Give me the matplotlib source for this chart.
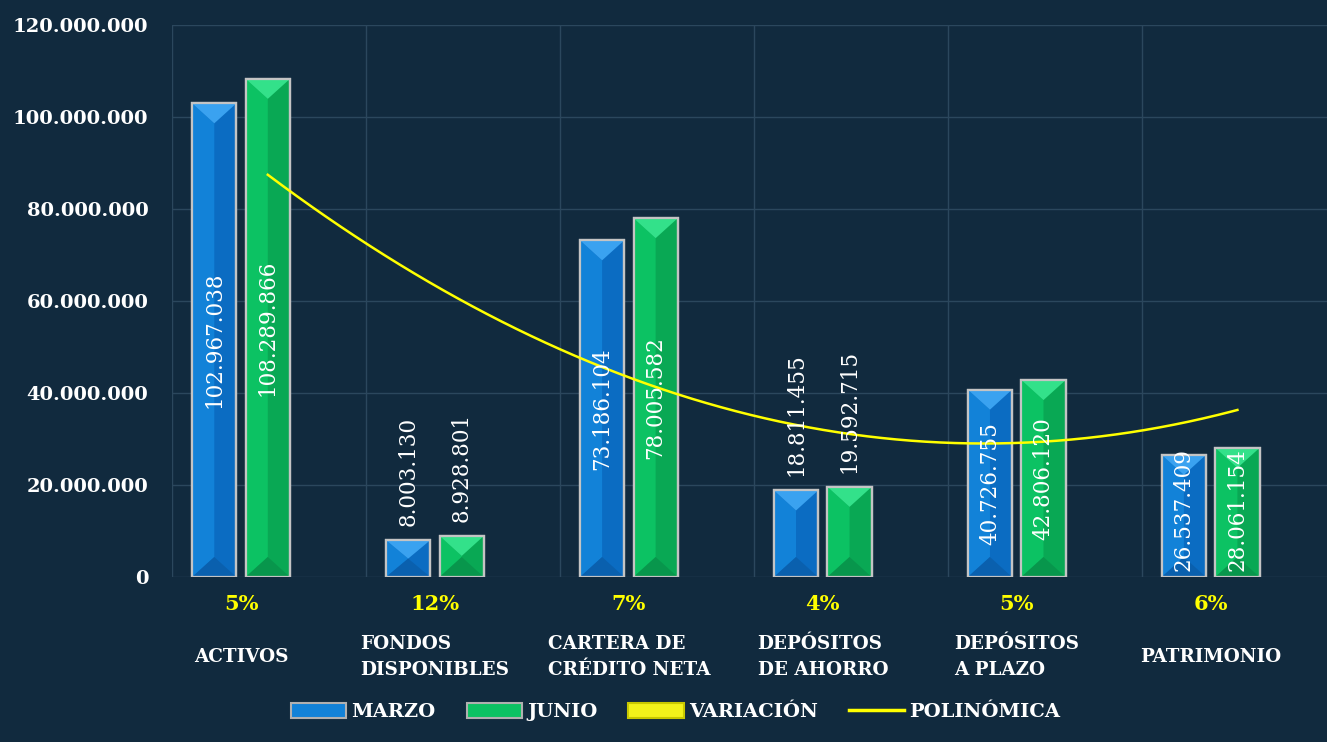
import numpy as np
import matplotlib
matplotlib.use("Agg")
import matplotlib.pyplot as plt
from matplotlib.patches import Polygon, Patch
from matplotlib.lines import Line2D
from matplotlib.ticker import FuncFormatter, MultipleLocator

# ---------------- data ----------------
categories = ["ACTIVOS", "FONDOS\nDISPONIBLES", "CARTERA DE\nCRÉDITO NETA",
              "DEPÓSITOS\nDE AHORRO", "DEPÓSITOS\nA PLAZO", "PATRIMONIO"]
marzo = [102967038, 8003130, 73186104, 18811455, 40726755, 26537409]
junio = [108289866, 8928801, 78005582, 19592715, 42806120, 28061154]
variacion = ["5%", "12%", "7%", "4%", "5%", "6%"]
series_names = ["MARZO", "JUNIO", "VARIACIÓN", "POLINÓMICA"]

# ---------------- style ----------------
BG = "#112a3e"
GRID = "#2b475d"
WHITE = "#ffffff"
YELLOW = "#ffff00"
SERIF = ["DejaVu Serif"]
blue = dict(main="#0b6cc2", light="#1282d8", top="#3aa2f0", bottom="#0a60ae")
green = dict(main="#09a854", light="#0cc263", top="#33e18a", bottom="#08964c")

fig = plt.figure(figsize=(13.27, 7.42), dpi=100, facecolor=BG)
ax = fig.add_axes([172 / 1327, 165 / 742, 1 - 172 / 1327, (577 - 25) / 742])
ax.set_facecolor(BG)

x = np.arange(len(categories))
w = 0.228
off = 0.138
ax.set_xlim(-0.356, 5.6)
ax.set_ylim(0, 120000000)

# grid
ax.yaxis.set_major_locator(MultipleLocator(20000000))
ax.grid(axis="y", color=GRID, lw=1.0, zorder=0)
for xv in np.arange(len(categories)) - 0.356:
    ax.axvline(xv, color=GRID, lw=1.0, zorder=0)
for s in ax.spines.values():
    s.set_visible(False)
ax.tick_params(axis="both", length=0)
ax.set_xticks([])
ax.yaxis.set_major_formatter(FuncFormatter(lambda v, p: f"{int(v):,}".replace(",", ".")))
ax.tick_params(axis="y", labelsize=14, labelcolor=WHITE, pad=17)
for lab in ax.get_yticklabels():
    lab.set_fontweight("bold")
    lab.set_family(SERIF)

b1 = ax.bar(x - off, marzo, w, color=blue["main"], edgecolor="#c4c4c4", lw=1.6, zorder=2)
b2 = ax.bar(x + off, junio, w, color=green["main"], edgecolor="#c4c4c4", lw=1.6, zorder=2)

fig.canvas.draw()
px_per_y = (ax.transData.transform((0, 1e6))[1] - ax.transData.transform((0, 0))[1]) / 1e6


def bevel(bars, pal):
    for b in bars:
        x0, y0, bw, bh = b.get_x(), b.get_y(), b.get_width(), b.get_height()
        xm = x0 + bw / 2
        d = min(20 / px_per_y, bh / 2)
        ax.add_patch(Polygon([(x0, y0), (xm, y0 + d), (xm, y0 + bh - d), (x0, y0 + bh)],
                             closed=True, facecolor=pal["light"], lw=0, zorder=2.1))
        ax.add_patch(Polygon([(x0, y0 + bh), (x0 + bw, y0 + bh), (xm, y0 + bh - d)],
                             closed=True, facecolor=pal["top"], lw=0, zorder=2.2))
        ax.add_patch(Polygon([(x0, y0), (x0 + bw, y0), (xm, y0 + d)],
                             closed=True, facecolor=pal["bottom"], lw=0, zorder=2.2))
        ax.add_patch(Polygon([(x0, y0), (x0 + bw, y0), (x0 + bw, y0 + bh), (x0, y0 + bh)],
                             closed=True, facecolor="none", edgecolor="#c4c4c4", lw=1.6, zorder=2.3))


bevel(b1, blue)
bevel(b2, green)

# polynomial trendline (order 2) on JUNIO
xg = x + off
coef = np.polyfit(xg, junio, 2)
xs = np.linspace(xg[0], xg[-1], 200)
ax.plot(xs, np.polyval(coef, xs), color=YELLOW, lw=1.8, zorder=3)


def fmt(v):
    return f"{v:,}".replace(",", ".")


def value_labels(bars, vals):
    for b, v in zip(bars, vals):
        xc = b.get_x() + b.get_width() / 2
        txt = fmt(v)
        if v > 22000000:
            half = (len(txt) * 12.0) / 2 / px_per_y
            yc = max(v / 2, half + 7 / px_per_y)
            ax.text(xc, yc, txt, rotation=90, ha="center", va="center", color=WHITE,
                    fontsize=15.5, family=SERIF, zorder=4)
        else:
            ax.annotate(txt, (xc, v), xytext=(0, 14), textcoords="offset pixels",
                        rotation=90, ha="center", va="bottom", color=WHITE,
                        fontsize=15.5, family=SERIF, zorder=4)


value_labels(b1, marzo)
value_labels(b2, junio)

# variation labels and category labels
tr = ax.get_xaxis_transform()
for i, (cat, var) in enumerate(zip(categories, variacion)):
    ax.annotate(var, (x[i], 0), xycoords=tr, xytext=(0, -27), textcoords="offset pixels",
                ha="center", va="center", color=YELLOW, fontsize=15, fontweight="bold",
                family=SERIF, annotation_clip=False)
    ax.annotate(cat, (x[i], 0), xycoords=tr, xytext=(0, -80), textcoords="offset pixels",
                ha="center", va="center", multialignment="left", linespacing=1.6,
                color=WHITE, fontsize=13.2, fontweight="bold", family=SERIF,
                annotation_clip=False)

handles = [
    Patch(facecolor=blue["light"], edgecolor="#b0b0b0", lw=1.5),
    Patch(facecolor=green["light"], edgecolor="#b0b0b0", lw=1.5),
    Patch(facecolor="#f2f21a", edgecolor="#c8c800", lw=1.5),
    Line2D([0], [0], color=YELLOW, lw=2.5),
]
leg = fig.legend(handles, series_names, loc="center", bbox_to_anchor=(0.509, 0.04), ncol=4,
                 frameon=False, handlelength=2.85, handleheight=0.75, handletextpad=0.25,
                 columnspacing=1.6, prop=dict(family=SERIF, weight="bold", size=14))
for t in leg.get_texts():
    t.set_color(WHITE)

fig.savefig("out.png", dpi=100, facecolor=BG)
